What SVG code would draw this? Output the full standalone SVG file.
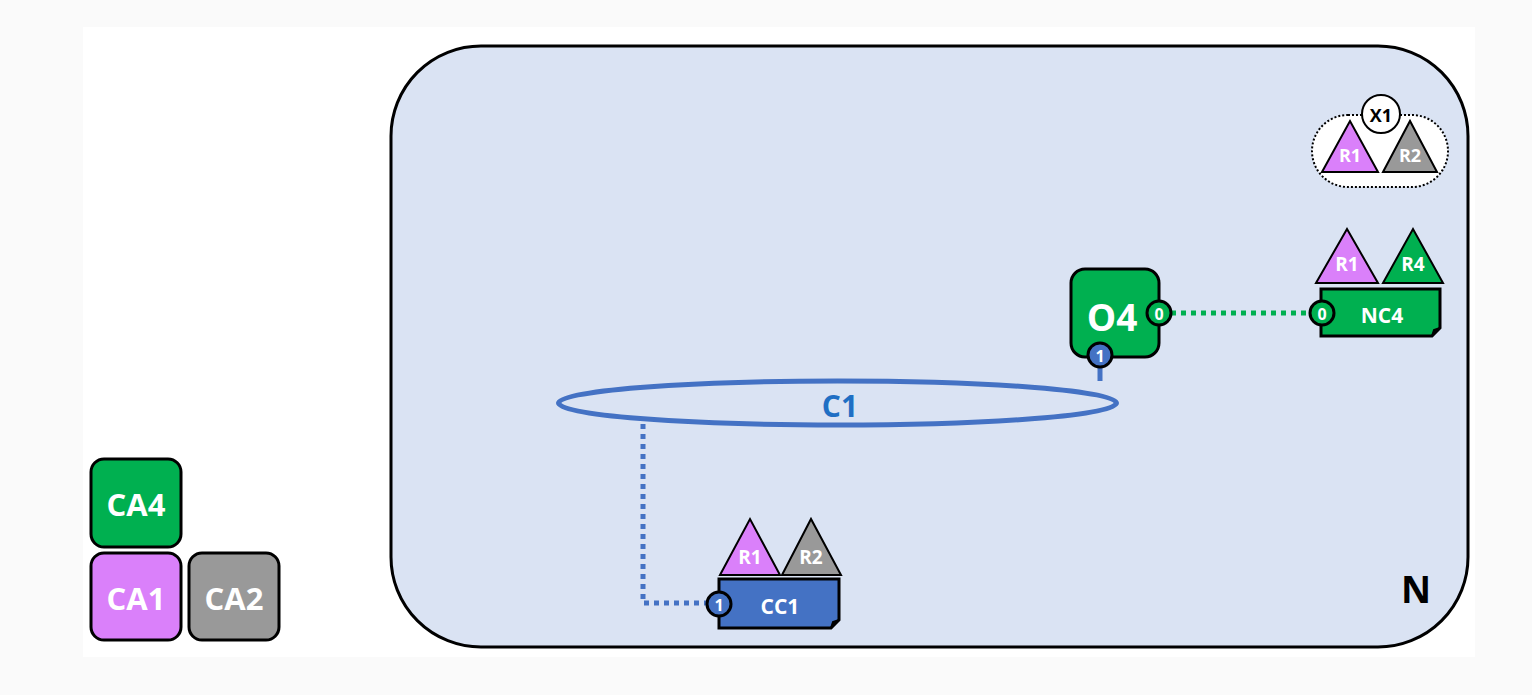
<svg xmlns="http://www.w3.org/2000/svg" width="1532" height="695" viewBox="0 0 1532 695">
<style>
text{font-family:"Open Sans","Liberation Sans",sans-serif;font-weight:bold;text-anchor:middle;dominant-baseline:central}
.w{fill:#fff}
.blk{stroke:#000;stroke-width:3}
.green{fill:#00b050}
.purple{fill:#da80fa}
.gray{fill:#999}
.blue{fill:#4472c4}
.tri{stroke:#000;stroke-width:2;stroke-linejoin:miter}
.port{stroke:#000;stroke-width:3}
.pt{font-size:16px}
</style>
<rect x="0" y="0" width="1532" height="695" fill="#fafafa"/>
<rect x="83" y="27" width="1392" height="630" fill="#fff"/>
<g id="N">
<rect x="391" y="46" width="1077" height="601" rx="90" ry="90" fill="#dae3f3" stroke="#000" stroke-width="3"/>
<text x="1416" y="588" font-size="37" fill="#000">N</text>
</g>
<g id="connectors">
<line x1="1100" y1="364" x2="1100" y2="381" stroke="#4472c4" stroke-width="5"/>
<path d="M643 424 V603 H707" fill="none" stroke="#4472c4" stroke-width="5" stroke-dasharray="5 5"/>
<line x1="1171" y1="313" x2="1310" y2="313" stroke="#00b050" stroke-width="5" stroke-dasharray="5 5"/>
</g>
<g id="C1">
<ellipse cx="837.5" cy="403" rx="279" ry="22" fill="none" stroke="#4472c4" stroke-width="5"/>
<text x="840" y="405" font-size="30" fill="#1f6fc4">C1</text>
</g>
<g id="X1">
<rect x="1312" y="115" width="136" height="72" rx="36" ry="36" fill="#fff" stroke="#000" stroke-width="2" stroke-dasharray="2 2"/>
<polygon class="tri purple" points="1322,172 1350,121 1378,172"/>
<text class="w" x="1350" y="155" font-size="18">R1</text>
<polygon class="tri gray" points="1383,172 1410,121 1437,172"/>
<text class="w" x="1410" y="155" font-size="18">R2</text>
<circle cx="1381" cy="114" r="19" fill="#fff" stroke="#000" stroke-width="2"/>
<text x="1381" y="115" font-size="18" fill="#000">X1</text>
</g>
<g id="O4">
<rect x="1071" y="269" width="88" height="88" rx="14" ry="14" class="green blk"/>
<text class="w" x="1112" y="316" font-size="37">O4</text>
<circle cx="1159" cy="313" r="12" class="green port"/>
<text class="w pt" x="1159" y="314">0</text>
<circle cx="1100" cy="355" r="12" class="blue port"/>
<text class="w pt" x="1100" y="356">1</text>
</g>
<g id="NC4">
<polygon class="tri purple" points="1316,283 1347,229 1378,283"/>
<text class="w" x="1347" y="264" font-size="19">R1</text>
<polygon class="tri green" points="1383,283 1413,229 1443,283"/>
<text class="w" x="1413" y="264" font-size="19">R4</text>
<path d="M1321 289 H1440 V328 L1432 336 H1321 Z" class="green blk"/>
<path d="M1432 336 L1434 330 L1440 328" fill="#000" stroke="#000" stroke-width="2"/>
<text class="w" x="1382" y="315" font-size="21">NC4</text>
<circle cx="1322" cy="313" r="12" class="green port"/>
<text class="w pt" x="1322" y="314">0</text>
</g>
<g id="CC1">
<polygon class="tri purple" points="720,575 750,519 780,575"/>
<text class="w" x="750" y="557" font-size="19">R1</text>
<polygon class="tri gray" points="782,575 811,519 841,575"/>
<text class="w" x="811" y="557" font-size="19">R2</text>
<path d="M719 579 H839 V620 L831 628 H719 Z" class="blue blk"/>
<path d="M831 628 L833 622 L839 620" fill="#000" stroke="#000" stroke-width="2"/>
<text class="w" x="780" y="606" font-size="21">CC1</text>
<circle cx="719" cy="604" r="12" class="blue port"/>
<text class="w pt" x="719" y="605">1</text>
</g>
<g id="CA4">
<rect x="91" y="459" width="90" height="88" rx="13" ry="13" class="green blk"/>
<text class="w" x="136" y="504" font-size="31">CA4</text>
</g>
<g id="CA1">
<rect x="91" y="553" width="90" height="87" rx="13" ry="13" class="purple blk"/>
<text class="w" x="136" y="598" font-size="31">CA1</text>
</g>
<g id="CA2">
<rect x="189" y="553" width="90" height="87" rx="13" ry="13" class="gray blk"/>
<text class="w" x="234" y="598" font-size="31">CA2</text>
</g>
</svg>
